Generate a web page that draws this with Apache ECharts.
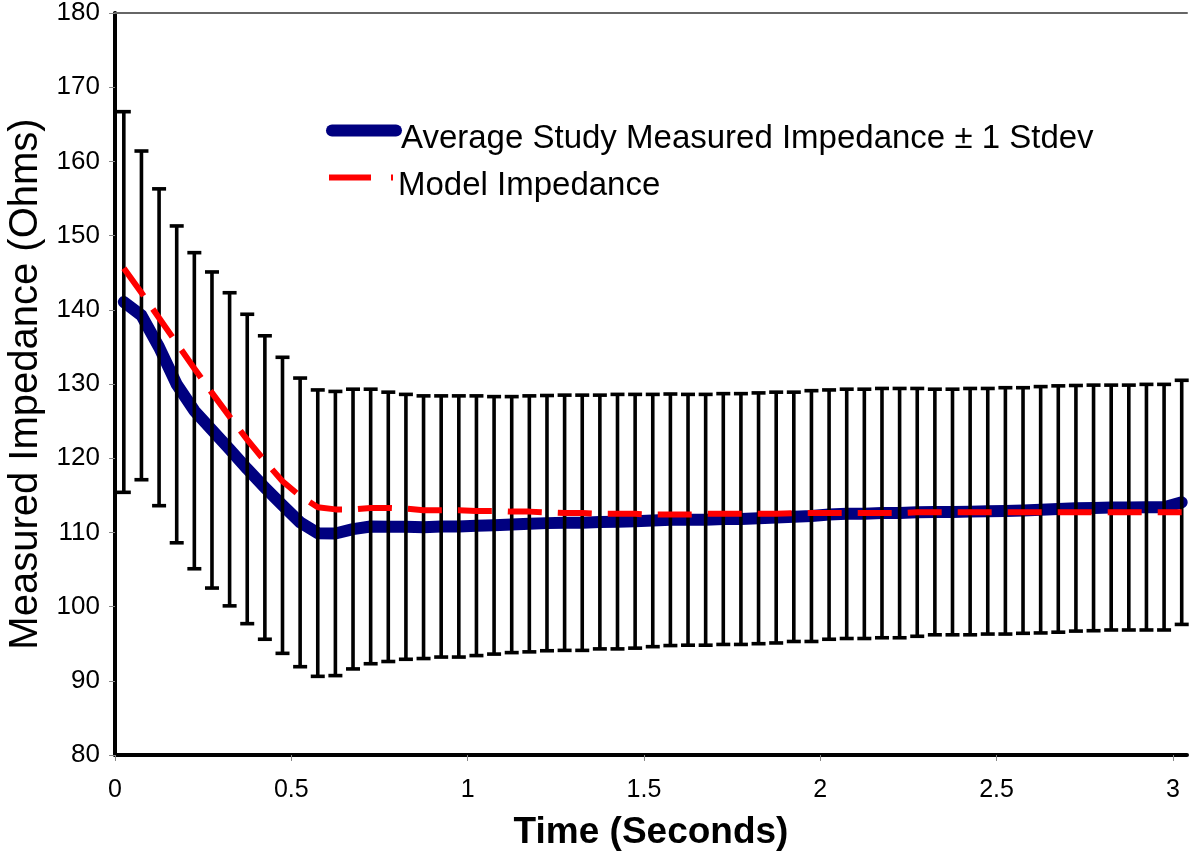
<!DOCTYPE html>
<html>
<head>
<meta charset="utf-8">
<script src="https://cdn.jsdelivr.net/npm/echarts@6/dist/echarts.min.js"></script>
<style>
  html, body { margin: 0; padding: 0; background: #fff; }
  #chart { width: 1200px; height: 857px; }
</style>
</head>
<body>
<div id="chart"></div>
<script>
const time = [
  0.025, 0.075, 0.125, 0.175, 0.225, 0.275, 0.325, 0.375, 0.425, 0.475,
  0.525, 0.575, 0.625, 0.675, 0.725, 0.775, 0.825, 0.875, 0.925, 0.975,
  1.025, 1.075, 1.125, 1.175, 1.225, 1.275, 1.325, 1.375, 1.425, 1.475,
  1.525, 1.575, 1.625, 1.675, 1.725, 1.775, 1.825, 1.875, 1.925, 1.975,
  2.025, 2.075, 2.125, 2.175, 2.225, 2.275, 2.325, 2.375, 2.425, 2.475,
  2.525, 2.575, 2.625, 2.675, 2.725, 2.775, 2.825, 2.875, 2.925, 2.975,
  3.025,
];

const measured = [
  141.05, 139.25, 134.95, 129.95, 126.4, 123.8, 121.2, 118.55, 116.05, 113.65,
  111.35, 109.9, 109.85, 110.45, 110.8, 110.75, 110.75, 110.7, 110.8, 110.8,
  110.9, 110.95, 111.05, 111.15, 111.25, 111.3, 111.3, 111.4, 111.45, 111.5,
  111.6, 111.7, 111.7, 111.7, 111.8, 111.8, 111.9, 112.0, 112.1, 112.2,
  112.4, 112.5, 112.5, 112.6, 112.6, 112.7, 112.75, 112.75, 112.8, 112.85,
  112.9, 112.95, 113.05, 113.15, 113.25, 113.3, 113.35, 113.35, 113.4, 113.4,
  114.05,
];

const stdev = [
  25.65, 22.15, 21.35, 21.35, 21.3, 21.3, 21.1, 20.85, 20.45, 19.95,
  19.45, 19.3, 19.15, 18.85, 18.5, 18.15, 17.85, 17.7, 17.6, 17.6,
  17.5, 17.35, 17.25, 17.25, 17.2, 17.2, 17.2, 17.1, 17.15, 17.1,
  17.0, 16.95, 16.9, 16.9, 16.9, 16.9, 16.9, 16.9, 16.8, 16.9,
  16.8, 16.8, 16.8, 16.8, 16.8, 16.7, 16.55, 16.55, 16.6, 16.55,
  16.6, 16.55, 16.6, 16.6, 16.55, 16.55, 16.5, 16.5, 16.55, 16.55,
  16.45,
];

const model = [
  145.6, 142.3, 138.9, 135.5, 132.1, 128.8, 125.6, 122.5, 119.6, 116.9,
  114.9, 113.4, 113.1, 113.1, 113.3, 113.3, 113.2, 113.0, 113.0, 113.0,
  112.9, 112.9, 112.8, 112.8, 112.7, 112.6, 112.6, 112.5, 112.5, 112.5,
  112.4, 112.4, 112.4, 112.5, 112.5, 112.5, 112.5, 112.5, 112.6, 112.6,
  112.6, 112.6, 112.6, 112.6, 112.6, 112.7, 112.7, 112.7, 112.7, 112.7,
  112.7, 112.7, 112.7, 112.7, 112.7, 112.7, 112.7, 112.7, 112.7, 112.7,
  112.7,
];

const measuredName = "Average Study Measured Impedance \u00b1 1 Stdev";
const modelName = "Model Impedance";
const font = '"Liberation Sans", Arial, sans-serif';

const chart = echarts.init(document.getElementById("chart"), null, { renderer: "canvas" });

function errorBar(params, api) {
  const x = api.value(0);
  const top = api.coord([x, api.value(2)]);
  const bottom = api.coord([x, api.value(1)]);
  const half = 7;
  const style = { stroke: "#000", lineWidth: 3.6 };
  return {
    type: "group",
    children: [
      { type: "line", shape: { x1: top[0], y1: top[1], x2: bottom[0], y2: bottom[1] }, style },
      { type: "line", shape: { x1: top[0] - half, y1: top[1], x2: top[0] + half, y2: top[1] }, style },
      { type: "line", shape: { x1: bottom[0] - half, y1: bottom[1], x2: bottom[0] + half, y2: bottom[1] }, style },
    ],
  };
}

// legend text sits a little lower than its line sample in the original
function legendBox(name, top, lineStyle) {
  return {
    left: 321,
    top,
    itemWidth: 64,
    itemHeight: 14,
    itemStyle: { opacity: 0 },
    formatter: (n) => `{t|${n}}`,
    textStyle: {
      color: "#000",
      rich: { t: { fontSize: 33, fontFamily: font, color: "#000", padding: [16, 0, 0, 0] } },
    },
    data: [{ name, lineStyle }],
  };
}

chart.setOption({
  animation: false,
  backgroundColor: "#fff",
  grid: { left: 115, right: 13, top: 13, bottom: 102, outerBoundsMode: "none" },
  legend: [
    legendBox(measuredName, 117, { width: 12, cap: "round" }),
    legendBox(modelName, 164, { width: 6, type: [42, 20] }),
  ],
  xAxis: [
    {
      type: "value",
      min: 0,
      max: 3.04,
      interval: 0.5,
      name: "Time (Seconds)",
      nameLocation: "middle",
      nameGap: 59,
      nameTextStyle: { fontSize: 37, fontWeight: "bold", color: "#000", fontFamily: font },
      axisLine: { lineStyle: { color: "#000", width: 4 } },
      axisTick: { length: 6, lineStyle: { color: "#888", width: 1 } },
      axisLabel: { fontSize: 25, color: "#000", fontFamily: font, margin: 23, showMaxLabel: false },
      splitLine: { show: false },
    },
    {
      type: "value",
      position: "top",
      min: 0,
      max: 3.04,
      axisLine: { show: true, lineStyle: { color: "#666", width: 2 } },
      axisTick: { show: false },
      axisLabel: { show: false },
      splitLine: { show: false },
    },
  ],
  yAxis: [
    {
      type: "value",
      min: 80,
      max: 180,
      interval: 10,
      name: "Measured Impedance (Ohms)",
      nameLocation: "middle",
      nameGap: 53,
      nameTextStyle: { fontSize: 40, color: "#000", fontFamily: font },
      axisLine: { show: true, lineStyle: { color: "#000", width: 4 } },
      axisTick: { show: true, length: 6, lineStyle: { color: "#888", width: 1 } },
      axisLabel: { fontSize: 26, color: "#000", fontFamily: font, margin: 15 },
      splitLine: { show: false },
    },
    {
      type: "value",
      position: "right",
      min: 80,
      max: 180,
      axisLine: { show: true, lineStyle: { color: "#000", width: 3 } },
      axisTick: { show: false },
      axisLabel: { show: false },
      splitLine: { show: false },
    },
  ],
  series: [
    {
      name: measuredName,
      type: "line",
      symbol: "none",
      z: 2,
      data: time.map((t, i) => [t, measured[i]]),
      lineStyle: { color: "#000080", width: 12, cap: "round", join: "round" },
      itemStyle: { color: "#000080" },
    },
    {
      type: "custom",
      z: 3,
      clip: false,
      renderItem: errorBar,
      encode: { x: 0, y: [1, 2] },
      data: time.map((t, i) => [t, measured[i] - stdev[i], measured[i] + stdev[i]]),
    },
    {
      name: modelName,
      type: "line",
      symbol: "none",
      z: 4,
      data: time.map((t, i) => [t, model[i]]),
      lineStyle: { color: "#ff0000", width: 6, type: [34, 16] },
      itemStyle: { color: "#ff0000" },
    },
  ],
});
</script>
</body>
</html>
